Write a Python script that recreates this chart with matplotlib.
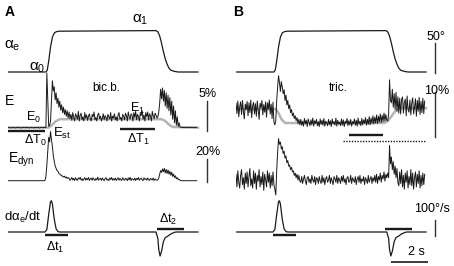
import matplotlib
matplotlib.use("Agg")
import matplotlib.pyplot as plt
import numpy as np

plt.rcParams['font.family'] = ['Liberation Sans', 'DejaVu Sans']
plt.rcParams['mathtext.fontset'] = 'custom'
plt.rcParams['mathtext.rm'] = 'Liberation Sans'
plt.rcParams['mathtext.it'] = 'Liberation Sans'

# -- data --
dt = 0.05  # sampling step of the EMG traces (s)

# joint angle (deg), knots
ang_t_A = [0, 2.05, 2.12, 2.2, 2.3, 2.4, 2.5, 2.6, 2.75, 8.0, 8.1, 8.2, 8.3, 8.4, 8.5, 8.6, 8.7, 8.8, 9.0, 9.2, 10.27]
ang_A = [0, 0, 3, 18, 42, 58, 65, 67, 68, 69, 67, 60, 48, 34, 22, 13, 6.5, 3, 1, 0, 0]
ang_t_B = [0, 2.05, 2.12, 2.2, 2.3, 2.4, 2.5, 2.6, 2.75, 8.1, 8.2, 8.3, 8.4, 8.5, 8.6, 8.7, 8.8, 8.9, 9.1, 9.3, 10.27]
ang_B = [0, 0, 3, 18, 42, 58, 65, 67, 68, 69, 67, 60, 48, 34, 22, 13, 6.5, 3, 1, 0, 0]

# angular velocity (deg/s), knots
vel_t_A = [0, 2.0, 2.1, 2.2, 2.3, 2.35, 2.4, 2.5, 2.6, 2.7, 2.8, 8.0, 8.1, 8.15, 8.22, 8.3, 8.4, 8.5, 8.65, 8.8, 9.0, 9.1, 10.27]
vel_A = [0, 0, 15, 110, 190, 195, 175, 80, 20, 3, 0, 0, -40, -110, -150, -120, -60, -35, -25, -12, -2, 0, 0]
vel_t_B = [0, 2.0, 2.1, 2.2, 2.3, 2.35, 2.4, 2.5, 2.6, 2.7, 2.8, 8.15, 8.25, 8.3, 8.37, 8.45, 8.55, 8.65, 8.8, 8.95, 9.15, 9.25, 10.27]
vel_B = vel_A

# EMG envelope E (%), biceps
E_A = [0.4, 0.45, 0.4, 0.35, 0.4, 0.45, 0.4, 0.4, 0.35, 0.45, 0.4, 0.4, 0.45, 0.4, 0.35, 0.4, 0.45, 0.4, 0.4, 0.45,
       0.4, 0.45, 0.4, 0.35, 0.4, 0.45, 0.4, 0.4, 0.35, 0.45, 0.4, 0.4, 0.45, 0.4, 0.35, 0.4, 0.45, 0.4, 0.4, 0.45,
       0.4, 0.4,
       9.5, 5.0, 0.6, 0.8, 1.5, 5.0, 8.2, 6.5, 7.2, 5.0, 6.2, 4.4, 5.3, 3.8, 4.8, 3.3, 4.2, 2.9, 3.8, 2.6,
       3.4, 2.3, 3.2, 2.0, 3.0, 1.9,
       2.6, 1.6, 2.9, 2.1, 1.5, 2.7, 2.3, 1.8, 3.1, 1.5, 2.4, 2.8, 1.7, 2.2, 1.5, 2.9, 2.0, 2.5, 1.6, 2.3,
       2.7, 1.8, 1.5, 2.6, 2.2, 3.0, 1.7, 2.1, 1.5, 2.5, 2.8, 1.9, 2.3, 1.5, 2.0, 2.7, 1.7, 2.4, 2.1, 1.5,
       2.6, 2.2, 1.8, 2.9, 1.5, 2.3, 2.0, 2.7, 1.7, 2.2, 1.5, 2.5, 2.9, 1.8, 2.1, 1.5, 2.6, 2.3, 1.7, 2.8,
       2.4, 1.5, 3.0, 2.2, 1.8, 2.7, 2.5, 1.5, 2.9, 2.1, 3.1, 1.7, 2.6, 2.3, 1.5, 2.8, 2.4, 3.2, 1.8, 2.5,
       1.5, 2.9, 2.2, 3.0, 1.7, 2.7, 2.4, 1.5, 3.1, 2.3, 1.9, 2.8, 2.5, 2.0,
       2.2, 3.0, 4.5, 6.8, 5.2, 7.0, 4.8, 6.6, 4.0, 6.2, 3.6, 5.8, 3.2, 5.4, 2.5, 4.8, 1.8, 4.0, 1.2, 3.2,
       0.8, 2.2, 0.6, 1.2, 0.5, 0.45,
       0.4, 0.45, 0.4, 0.4, 0.45, 0.4, 0.4, 0.4, 0.45, 0.4, 0.4, 0.45, 0.4, 0.4, 0.4, 0.45, 0.4]
Est_t_A = [0, 2.2, 2.4, 2.6, 2.8, 8.3, 8.5, 8.7, 8.9, 10.27]
Est_A = [0.4, 0.4, 0.9, 1.5, 1.8, 1.8, 1.5, 0.9, 0.5, 0.4]

Edyn_A = [0.3, 0.2, 0.3, 0.2, 0.3, 0.3, 0.2, 0.3, 0.2, 0.3, 0.3, 0.2, 0.3, 0.2, 0.3, 0.3, 0.2, 0.3, 0.2, 0.3,
          0.3, 0.2, 0.3, 0.2, 0.3, 0.3, 0.2, 0.3, 0.2, 0.3, 0.3, 0.2, 0.3, 0.2, 0.3, 0.3, 0.2, 0.3, 0.2, 0.3,
          0.5, 4, 14, 26, 38, 34, 43, 36, 30, 22, 17, 13, 11, 9, 8.5, 6.5, 6, 5, 5, 3.8,
          3.5, 4.2, 2.8, 3.6, 2.2, 3.0,
          2.4, 0.6, 1.5, 3.1, 0.9, 2.2, 0.4, 2.8, 1.3, 0.5, 2.6, 1.7, 3.2, 0.8, 2.0, 0.3, 1.6, 2.9, 0.7, 2.3,
          1.1, 3.0, 0.5, 1.9, 2.5, 0.6, 2.8, 1.4, 0.4, 2.2, 1.0, 3.3, 0.7, 1.8, 2.4, 0.5, 2.7, 1.2, 0.3, 2.1,
          2.9, 0.8, 1.6, 0.4, 2.6, 1.3, 3.1, 0.6, 2.0, 0.9, 2.5, 0.4, 1.7, 2.8, 0.7, 2.3, 1.1, 0.5, 2.9, 1.4,
          0.6, 2.4, 1.8, 0.3, 2.7, 1.0, 3.2, 0.5, 2.1, 1.5, 0.8, 2.6, 0.4, 2.2, 1.2, 3.0, 0.6, 1.9, 2.5, 0.9,
          0.4, 2.8, 1.3, 2.0, 0.7, 2.6, 1.1, 0.5, 2.3, 1.6, 0.8, 2.7, 0.5, 1.8, 1.2, 0.6,
          1.0, 2.5, 6, 9, 7.5, 10.5, 8, 11, 7, 10, 6.5, 9.5, 6, 8.5, 5, 7.5, 4, 6, 3, 4.5,
          2, 3, 1.2, 1.5, 0.6, 0.4,
          0.3, 0.2, 0.3, 0.3, 0.2, 0.3, 0.2, 0.3, 0.3, 0.2, 0.3, 0.2, 0.3, 0.3, 0.2, 0.3, 0.3]

# EMG envelope E (%), triceps
E_B = [8.4, 6.1, 8.9, 5.4, 7.6, 8.7, 5.9, 9.0, 6.5, 4.9, 8.2, 7.0, 8.8, 5.6, 8.5, 6.3, 9.1, 5.2, 7.8, 8.6,
       6.0, 8.3, 5.5, 8.9, 6.8, 4.8, 8.4, 7.4, 9.0, 5.8, 8.1, 6.4, 8.7, 5.3, 8.5, 7.1, 9.1, 6.0, 8.2, 5.0,
       8.6, 4.2,
       3.6, 4.5, 9.0, 12, 14.5, 13, 11, 13.2, 12, 10.5, 11.4, 9.0, 10.2, 8.0, 9.0, 7.2, 8.0, 6.3, 7.0, 5.6,
       6.2, 5.0, 5.6, 4.5, 5.2, 3.9, 4.8, 3.6,
       4.8, 3.5, 4.4, 3.3, 5.0, 3.8, 4.6, 3.2, 4.9, 4.1, 3.4, 4.7, 3.6, 5.1, 3.3, 4.5, 3.9, 4.8, 3.4, 4.3,
       3.2, 4.9, 3.7, 4.6, 3.5, 5.0, 3.3, 4.4, 4.0, 3.4, 4.8, 3.6, 4.5, 3.2, 4.9, 3.8, 4.3, 3.5, 5.1, 3.3,
       4.6, 3.7, 4.2, 3.4, 4.9, 3.5, 4.7, 3.2, 4.4, 3.9, 5.0, 3.4, 4.5, 3.6, 4.8, 3.3, 4.3, 3.8, 4.9, 3.5,
       4.6, 3.3, 5.1, 3.7, 4.4, 3.4, 5.0, 3.6, 4.7, 3.9, 5.2, 3.5, 4.8, 3.7, 5.4, 3.6, 5.1, 3.9, 5.6, 3.8,
       5.3, 4.0, 5.8, 3.9, 5.5, 4.2, 6.0, 4.1, 5.7, 4.3, 6.2, 4.4, 5.9, 4.6,
       4.5, 6.0, 13.6, 9.0, 8.5, 11.5, 7.5, 10.5, 7.0, 10.8, 6.6, 9.8, 6.2, 9.5, 6.0, 9.2,
       9.8, 6.2, 8.6, 9.3, 5.6, 10.0, 7.0, 6.4, 9.1, 5.8, 8.4, 9.6, 6.0, 7.5, 9.4, 5.5, 9.0, 6.6, 9.7, 5.9,
       8.8, 6.3, 9.5, 6.1, 8.9]
Est_t_B = [0, 2.15, 2.3, 2.45, 2.65, 8.0, 8.2, 8.4, 8.6, 8.85, 10.27]
Est_B = [7.1, 7.1, 6.2, 4.9, 4.0, 4.0, 4.4, 5.5, 6.6, 7.3, 7.3]

Edyn_B = [5, -6, 8, -2, -7, 4, 9, -4, 2, -8, 6, -3, 7, -6, 3, 10, -5, 1, -7, 8,
          -3, 6, -8, 4, -1, 9, -6, 3, -4, 7, -9, 5, 0, -6, 8, -2, 6, -7, 4, -5,
          7, -4,
          -8, -13, 8, 24, 36, 31, 33, 27, 29, 23, 25, 19, 21, 15, 17, 12, 13, 9, 11, 7,
          8, 4, 6, 2, 5, 0, 4, -1,
          -2, 3, -3, 1, 4, -1, -4, 2, 3, -2, 1, -3, 4, 0, -2, 3, -4, 2, 1, -3,
          3, -1, -3, 4, -2, 2, -4, 1, 3, -2, 0, 4, -3, 2, -1, -4, 3, 1, -2, 4,
          -3, 2, 0, -3, 3, -1, 4, -2, 1, -4, 2, 3, -2, -1, 4, -3, 2, 0, -2, 3,
          -4, 1, 3, -2, 4, -3, 1, -1, 3, -4, 2, 0, -3, 4, -2, 1, 3, -3, 2, -1,
          4, -2, 5, -3, 3, 0, 6, -2, 4, 1, 7, -1, 5, 2,
          6, 2, 30, 14, 20, 9, 16, 5, 12, 2, 10, -2,
          -5, 7, -3, 9, -6, 4, -8, 6, -2, 8, -7, 3, -4, 9, -5, 6, -8, 2, 7, -6,
          5, -3, 8, -7, 4, -5, 6, -4, 5]

# analysis windows (s)
dT0 = (0.0, 2.0)
dT1 = (6.05, 7.95)
dT1_B = (6.1, 7.95)
dt1 = (2.0, 3.22)
dt2 = (8.05, 9.5)

# scale bars
bar_t = 10.76
bar_2s = (8.38, 10.38)

# -- figure --
W, H = 454, 266
PX_S = 18.5  # pixels per second
fig = plt.figure(figsize=(W / 100, H / 100), dpi=100)


def trace_ax(x_left, y_top, y_bot, zero_px, px_per_unit):
    width = 218
    ax = fig.add_axes([x_left / W, 1 - y_bot / H, width / W, (y_bot - y_top) / H])
    ax.set_xlim(0, width / PX_S)
    ax.set_ylim((zero_px - y_bot) / px_per_unit, (zero_px - y_top) / px_per_unit)
    ax.axis('off')
    return ax


def label(x, y, s, size=9.5, **kw):
    fig.text(x / W, 1 - y / H, s, fontsize=size, ha='center', va='center', **kw)


trace_col = '#1a1a1a'
gray_col = '#b4b4b4'
lw_bar = 1.7

for x_left, at, av, vt, vv, E, Et, Es, Ed, zE, sE, zD in [
        (8, ang_t_A, ang_A, vel_t_A, vel_A, E_A, Est_t_A, Est_A, Edyn_A, 130, 6.0, 181),
        (236, ang_t_B, ang_B, vel_t_B, vel_B, E_B, Est_t_B, Est_B, Edyn_B, 141, 4.5, 180)]:
    tE = np.arange(len(E)) * dt
    tD = np.arange(len(Ed)) * dt

    ax_ang = trace_ax(x_left, 10, 82, 72, 0.6)
    ax_ang.plot(at, av, color=trace_col, lw=0.9)

    ax_E = trace_ax(x_left, 66, 152, zE, sE)
    ax_E.plot(Et, Es, color=gray_col, lw=1.8, zorder=1)
    ax_E.plot(tE, E, color=trace_col, lw=0.7, zorder=2)

    ax_D = trace_ax(x_left, 118, 200, zD, 1.15)
    ax_D.plot(tD, Ed, color=trace_col, lw=0.7)

    ax_V = trace_ax(x_left, 190, 266, 232, 0.16)
    ax_V.plot(vt, vv, color=trace_col, lw=0.9)
    ax_V.plot(dt1, [-19, -19], color=trace_col, lw=lw_bar, solid_capstyle='butt')
    ax_V.plot(dt2, [19, 19], color=trace_col, lw=lw_bar, solid_capstyle='butt')

    if x_left == 8:
        ax_E.plot(dT0, [-0.1, -0.1], color=trace_col, lw=lw_bar, solid_capstyle='butt')
        ax_E.plot(dT1, [0.25, 0.25], color=trace_col, lw=lw_bar, solid_capstyle='butt')
        ax_E.plot([bar_t, bar_t], [-0.2, 4.8], color='#333333', lw=1.0)
        ax_D.plot([bar_t, bar_t], [-0.9, 19.1], color='#333333', lw=1.0)
    else:
        ax_E.plot(dT1_B, [1.3, 1.3], color=trace_col, lw=lw_bar, solid_capstyle='butt')
        ax_E.plot([5.8, 10.27], [0, 0], color=trace_col, lw=1.0, ls=(0, (1, 1)))
        ax_E.plot([bar_t, bar_t], [0.9, 10.9], color='#333333', lw=1.0)
        ax_ang.plot([bar_t, bar_t], [-1.7, 48.3], color='#333333', lw=1.0)
        ax_V.plot([bar_t, bar_t], [-25, 75], color='#333333', lw=1.0)
        ax_V.plot(bar_2s, [-187.5, -187.5], color=trace_col, lw=1.2, solid_capstyle='butt')

# -- text --
label(10, 12, 'A', size=10, fontweight='bold')
label(238, 12, 'B', size=10, fontweight='bold')

label(12, 46, 'α$_\\mathrm{e}$', size=11)
label(37, 68, 'α$_0$', size=11)
label(140, 20, 'α$_1$', size=11)
label(106, 88, 'bic.b.', size=8.5)
label(338, 88, 'tric.', size=8.5)

label(10, 101, 'E', size=10)
label(34, 117, 'E$_0$', size=9)
label(62, 133, 'E$_\\mathrm{st}$', size=9.5)
label(137, 108, 'E$_1$', size=9)
label(35, 140, 'ΔT$_0$', size=9)
label(138, 139, 'ΔT$_1$', size=9)
label(21, 160, 'E$_\\mathrm{dyn}$', size=10)
label(23, 217, 'dα$_\\mathrm{e}$/dt', size=9.5)
label(55, 247, 'Δt$_1$', size=9)
label(168, 219, 'Δt$_2$', size=9)

label(208, 94, '5%', size=9)
label(208, 152, '20%', size=9)
label(436, 37, '50°', size=9)
label(437, 91, '10%', size=9)
label(432, 209, '100°/s', size=9)
label(416, 252, '2 s', size=9)

fig.savefig('out.png', dpi=100)
